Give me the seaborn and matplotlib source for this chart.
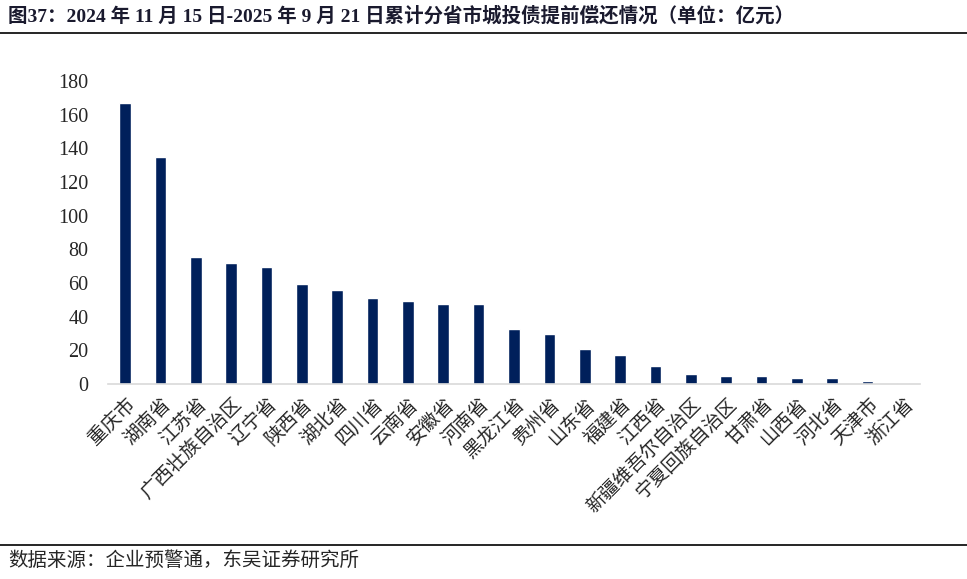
import matplotlib
matplotlib.use("Agg")
import matplotlib.pyplot as plt
import seaborn as sns
import pandas as pd

# 各省市城投债提前偿还金额（亿元）
provinces = ["重庆市", "湖南省", "江苏省", "广西壮族自治区", "辽宁省", "陕西省", "湖北省",
             "四川省", "云南省", "安徽省", "河南省", "黑龙江省", "贵州省", "山东省", "福建省",
             "江西省", "新疆维吾尔自治区", "宁夏回族自治区", "甘肃省", "山西省", "河北省",
             "天津市", "浙江省"]
amounts = [167, 135, 75.5, 71.8, 69.4, 59.3, 55.6, 51.0, 49.5, 47.4, 47.2, 32.5, 29.8,
           20.6, 17.0, 10.4, 5.8, 4.9, 4.8, 3.4, 3.4, 1.8, 0.6]
yticks = list(range(0, 181, 20))

title = "图37：2024 年 11 月 15 日-2025 年 9 月 21 日累计分省市城投债提前偿还情况（单位：亿元）"
source = "数据来源：企业预警通，东吴证券研究所"

sns.set_theme(style="white")
plt.rcParams["font.family"] = ["Liberation Serif", "Noto Sans CJK SC", "DejaVu Sans"]

df = pd.DataFrame({"province": provinces, "amount": amounts})

fig = plt.figure(figsize=(9.67, 5.79), dpi=100)
ax = fig.add_axes([0.1117, 0.337, 0.8397, 0.523])

sns.barplot(data=df, x="province", y="amount", color="#00205B", width=0.33,
            saturation=1, ax=ax)

ax.set_ylim(0, 180)
ax.set_xlim(-0.48, len(provinces) - 0.52)
ax.set_yticks(yticks)
ax.set_yticklabels([str(v) for v in yticks], fontsize=14.5,
                   family=["Liberation Serif"])
ax.set_xticks(range(len(provinces)))
ax.set_xticklabels(provinces, rotation=45, ha="right", rotation_mode="anchor",
                   fontsize=13.8, family=["Noto Sans CJK SC"])
ax.tick_params(axis="y", length=0, pad=14)
ax.tick_params(axis="x", length=0, pad=7)
ax.set_xlabel("")
ax.set_ylabel("")
for s in ["top", "right", "left"]:
    ax.spines[s].set_visible(False)
ax.spines["bottom"].set_color("#D9D9D9")
ax.spines["bottom"].set_linewidth(1.2)

fig.text(0.008, 0.99, title, fontsize=14, fontweight="bold", va="top", ha="left",
         color="#1a1a2e")
fig.add_artist(plt.Line2D([0, 1], [0.943, 0.943], color="black", lw=1.2,
                          transform=fig.transFigure))
fig.add_artist(plt.Line2D([0, 1], [0.059, 0.059], color="black", lw=1.2,
                          transform=fig.transFigure))
fig.text(0.008, 0.032, source, fontsize=14, va="center", ha="left",
         family=["Noto Sans CJK SC"])

fig.savefig("out.png", dpi=100)
